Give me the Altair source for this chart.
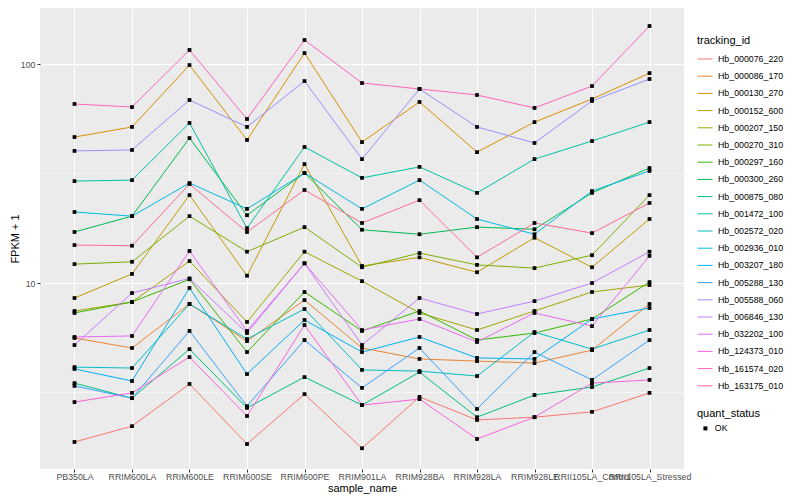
import altair as alt
import pandas as pd

samples = ["PB350LA", "RRIM600LA", "RRIM600LE", "RRIM600SE", "RRIM600PE", "RRIM901LA",
           "RRIM928BA", "RRIM928LA", "RRIM928LE", "RRII105LA_Control", "RRII105LA_Stressed"]

tracking_ids = ["Hb_000076_220", "Hb_000086_170", "Hb_000130_270", "Hb_000152_600", "Hb_000207_150",
                "Hb_000270_310", "Hb_000297_160", "Hb_000300_260", "Hb_000875_080", "Hb_001472_100",
                "Hb_002572_020", "Hb_002936_010", "Hb_003207_180", "Hb_005288_130", "Hb_005588_060",
                "Hb_006846_130", "Hb_032202_100", "Hb_124373_010", "Hb_161574_020", "Hb_163175_010"]

colors = ["#F8766D", "#EA8331", "#D89000", "#C09B00", "#A3A500", "#7CAE00", "#39B600", "#00BB4E",
          "#00BF7D", "#00C1A3", "#00BFC4", "#00BAE0", "#00B0F6", "#35A2FF", "#9590FF", "#C77CFF",
          "#E76BF3", "#FA62DB", "#FF62BC", "#FF6C91"]

# FPKM + 1 per sample (order of `samples`)
hb_000076_220 = [1.88, 2.22, 3.46, 1.84, 3.11, 1.76, 3.02, 2.37, 2.44, 2.58, 3.15]
hb_000086_170 = [5.61, 5.05, 8.02, 5.43, 8.36, 5.05, 4.50, 4.40, 4.31, 4.94, 8.02]
hb_000130_270 = [46.4, 51.6, 98.9, 45.0, 112.2, 44.0, 67.1, 39.6, 54.3, 69.2, 90.9]
hb_000152_600 = [8.54, 11.0, 25.2, 10.8, 34.9, 11.96, 13.1, 11.2, 16.1, 11.8, 19.6]
hb_000207_150 = [7.45, 8.19, 12.6, 6.64, 13.9, 10.2, 7.30, 6.10, 7.45, 9.10, 9.79]
hb_000270_310 = [12.2, 12.5, 20.2, 13.9, 18.0, 11.8, 13.7, 12.1, 11.7, 13.4, 25.2]
hb_000297_160 = [7.30, 8.19, 10.4, 4.84, 9.10, 6.04, 7.45, 5.49, 5.91, 6.85, 10.1]
hb_000300_260 = [17.1, 20.2, 45.9, 20.4, 31.8, 17.5, 16.7, 18.0, 17.6, 25.8, 33.5]
hb_000875_080 = [3.49, 2.98, 4.99, 2.69, 3.72, 2.77, 3.92, 2.44, 3.08, 3.35, 4.09]
hb_001472_100 = [29.2, 29.5, 53.8, 17.8, 41.8, 30.2, 33.9, 25.8, 36.8, 44.5, 54.3]
hb_002572_020 = [4.13, 4.09, 8.02, 5.55, 7.61, 4.01, 3.96, 3.76, 5.97, 4.99, 6.10]
hb_002936_010 = [21.1, 20.2, 28.6, 21.8, 31.8, 21.8, 29.5, 19.6, 16.7, 26.3, 32.5]
hb_003207_180 = [4.05, 3.57, 9.49, 3.84, 6.78, 4.84, 5.67, 4.55, 4.50, 6.85, 7.69]
hb_005288_130 = [3.39, 2.98, 6.04, 2.74, 5.49, 3.32, 5.05, 2.66, 4.84, 3.61, 5.49]
hb_005588_060 = [40.1, 40.5, 68.5, 51.6, 83.6, 36.8, 76.9, 51.6, 43.6, 67.8, 85.4]
hb_006846_130 = [5.21, 9.00, 10.5, 5.91, 12.3, 5.21, 8.54, 7.22, 8.27, 10.0, 13.9]
hb_032202_100 = [5.67, 5.73, 14.0, 6.04, 12.3, 6.10, 6.85, 5.38, 7.30, 6.36, 13.3]
hb_124373_010 = [2.86, 3.15, 4.59, 2.47, 6.43, 2.77, 2.95, 1.94, 2.44, 3.49, 3.61]
hb_161574_020 = [65.7, 63.6, 115.9, 56.1, 128.7, 81.9, 76.9, 72.2, 63.0, 79.3, 149.1]
hb_163175_010 = [14.9, 14.8, 28.3, 17.1, 26.6, 18.8, 23.9, 13.1, 18.8, 16.9, 23.2]

series = [hb_000076_220, hb_000086_170, hb_000130_270, hb_000152_600, hb_000207_150,
          hb_000270_310, hb_000297_160, hb_000300_260, hb_000875_080, hb_001472_100,
          hb_002572_020, hb_002936_010, hb_003207_180, hb_005288_130, hb_005588_060,
          hb_006846_130, hb_032202_100, hb_124373_010, hb_161574_020, hb_163175_010]

quant_status = ["OK"]
major_breaks = [10, 100]
minor_breaks = [3.1623, 31.623]

rows = []
for tid, vals in zip(tracking_ids, series):
    for s, v in zip(samples, vals):
        rows.append({"sample_name": s, "tracking_id": tid, "fpkm": v, "quant_status": quant_status[0]})
df = pd.DataFrame(rows)
minor_df = pd.DataFrame({"fpkm": minor_breaks})

FONT = "Liberation Sans"

yscale = alt.Scale(type="log", domain=[1.415, 180.2], nice=False, zero=False)
xscale = alt.Scale(type="point", padding=0.6)

x_enc = alt.X("sample_name:N", sort=samples, scale=xscale,
              axis=alt.Axis(title="sample_name", labelAngle=0, labelOverlap=False, labelFlush=False,
                            labelBound=False, labelFontSize=8.8, labelColor="#4D4D4D",
                            tickColor="#333333", tickSize=3, labelPadding=0.5, titleFontSize=11,
                            titleColor="black", titleFontWeight="normal", titlePadding=1,
                            grid=True, gridColor="white", gridWidth=1.1, domain=False))
y_axis = alt.Axis(title="FPKM + 1", values=major_breaks, format="d", labelFontSize=8.8,
                  labelColor="#4D4D4D", tickColor="#333333", tickSize=3, labelPadding=2,
                  titleFontSize=11, titleColor="black", titleFontWeight="normal",
                  titlePadding=0, grid=True, gridColor="white", gridWidth=1.1,
                  domain=False)
y_enc = alt.Y("fpkm:Q", scale=yscale, axis=y_axis)

minor = alt.Chart(minor_df).mark_rule(color="white", strokeWidth=0.55).encode(
    y=y_enc
)

lines = alt.Chart(df).mark_line(strokeWidth=1).encode(
    x=x_enc,
    y=y_enc,
    color=alt.Color("tracking_id:N", sort=tracking_ids,
                    scale=alt.Scale(domain=tracking_ids, range=colors),
                    legend=alt.Legend(title="tracking_id", orient="none", legendX=657, legendY=27,
                                      symbolType="stroke", symbolSize=225, symbolStrokeWidth=1,
                                      labelFontSize=8.8, labelColor="black", titleFontSize=11,
                                      titleFontWeight="normal", titleColor="black", titlePadding=5,
                                      rowPadding=4.2, labelOffset=5, padding=0)),
)

points = alt.Chart(df).mark_point(filled=True, size=14, opacity=1, color="black").encode(
    x=x_enc,
    y=y_enc,
    shape=alt.Shape("quant_status:N",
                    scale=alt.Scale(domain=quant_status, range=["square"]),
                    legend=alt.Legend(title="quant_status", orient="none", legendX=657, legendY=400,
                                      symbolSize=16, symbolFillColor="black", symbolStrokeColor="black",
                                      symbolOffset=4, labelOffset=5, labelFontSize=8.8,
                                      labelColor="black", titleFontSize=11, titleFontWeight="normal",
                                      titleColor="black", titlePadding=5, padding=0)),
)

chart = alt.layer(minor, lines, points).properties(
    width=644, height=461,
    padding={"left": 32, "top": 0, "right": 108, "bottom": 25},
    autosize=alt.AutoSizeParams(type="none"),
    background="white",
).configure(font=FONT).configure_view(fill="#EBEBEB", strokeWidth=0)

chart.save("out.html", embed_options={"renderer": "svg", "actions": False})
